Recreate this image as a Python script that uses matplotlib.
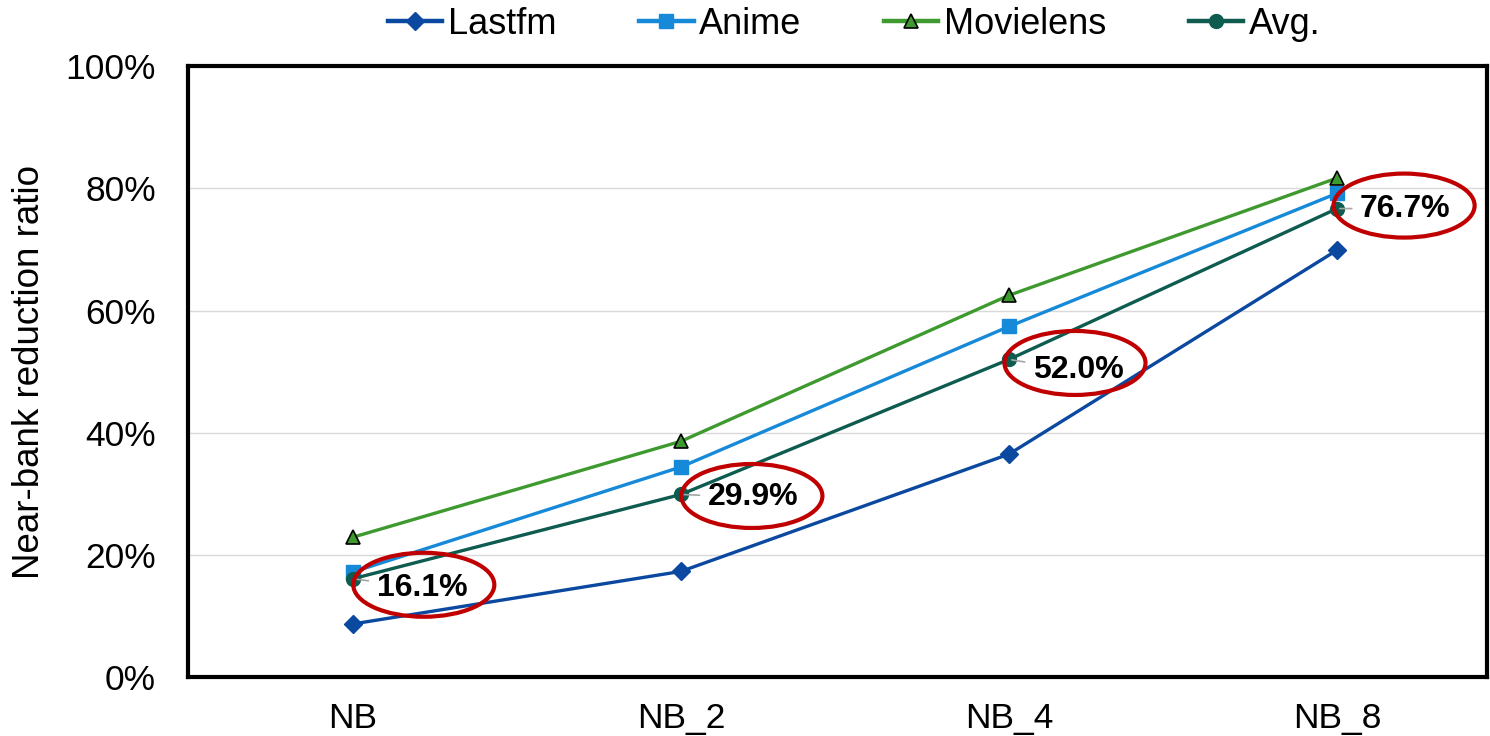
import matplotlib.pyplot as plt
import numpy as np
from matplotlib.patches import Ellipse
from matplotlib.ticker import FuncFormatter

plt.rcParams['font.family'] = ['Liberation Sans', 'DejaVu Sans']

cats = ['NB', 'NB_2', 'NB_4', 'NB_8']
lastfm = [8.7, 17.3, 36.5, 69.9]
anime = [17.2, 34.4, 57.4, 79.2]
movielens = [22.9, 38.6, 62.5, 81.7]
avg = [16.1, 29.9, 52.0, 76.7]

# label / ellipse placement (pixels, relative to the avg point)
lab_off = [(24, -9), (27, -3), (24, -11), (23, 0)]
ell_off = [(71, -6), (71, -1.5), (66, -3.5), (67, 3)]

x = np.arange(len(cats))

fig = plt.figure(figsize=(14.9, 7.36), dpi=100)
ax = fig.add_axes([0.126, 0.080, 0.872, 0.830])

ax.plot(x, lastfm, color='#0B48A0', lw=2.4, marker='D', ms=9.5, mec='#0B48A0', label='Lastfm', zorder=3)
ax.plot(x, anime, color='#1689D8', lw=2.4, marker='s', ms=10, mec='#1689D8', label='Anime', zorder=3)
ax.plot(x, movielens, color='#3E9A2E', lw=2.4, marker='^', ms=10.5, mec='black', mew=1.2, label='Movielens', zorder=3)
ax.plot(x, avg, color='#0E5C50', lw=2.4, marker='o', ms=10, mec='#0E5C50', label='Avg.', zorder=3)

ax.set_xlim(-0.503, 3.457)
ax.set_ylim(0, 100)

px_x = 1.0 / 328      # data units per pixel along x
px_y = 100.0 / 611    # data units per pixel along y

for xi, v, (tx, ty), (ex, ey) in zip(x, avg, lab_off, ell_off):
    ax.annotate('%.1f%%' % v, xy=(xi, v), xytext=(tx, ty), textcoords='offset pixels',
                ha='left', va='center', fontsize=23, fontweight='bold', color='black', zorder=5,
                arrowprops=dict(arrowstyle='-', color='#A6A6A6', lw=1.2, shrinkA=4, shrinkB=2))
    ax.add_patch(Ellipse((xi + ex * px_x, v + ey * px_y), 141 * px_x, 64 * px_y, fill=False,
                         edgecolor='#C00000', lw=3, zorder=6))

ax.set_xticks(x)
ax.set_xticklabels(cats)
ax.set_yticks(np.arange(0, 101, 20))
ax.yaxis.set_major_formatter(FuncFormatter(lambda v, p: '%d%%' % v))
ax.tick_params(axis='both', length=0, labelsize=25.5)
ax.tick_params(axis='x', pad=18)
ax.tick_params(axis='y', pad=23)
ax.grid(axis='y', color='#D9D9D9', lw=1)
ax.set_axisbelow(True)
for s in ax.spines.values():
    s.set_linewidth(3)
    s.set_color('black')

ax.set_ylabel('Near-bank reduction ratio', fontsize=26.5)
ax.yaxis.set_label_coords(-0.108, 0.5)

leg = ax.legend(loc='center', bbox_to_anchor=(0.513, 1.069), ncol=4, frameon=False,
                fontsize=26, handlelength=1.5, handletextpad=0.15, columnspacing=2.3,
                borderaxespad=0)
for h in leg.get_lines():
    h.set_linewidth(3.2)

plt.savefig('out.png', dpi=100)
